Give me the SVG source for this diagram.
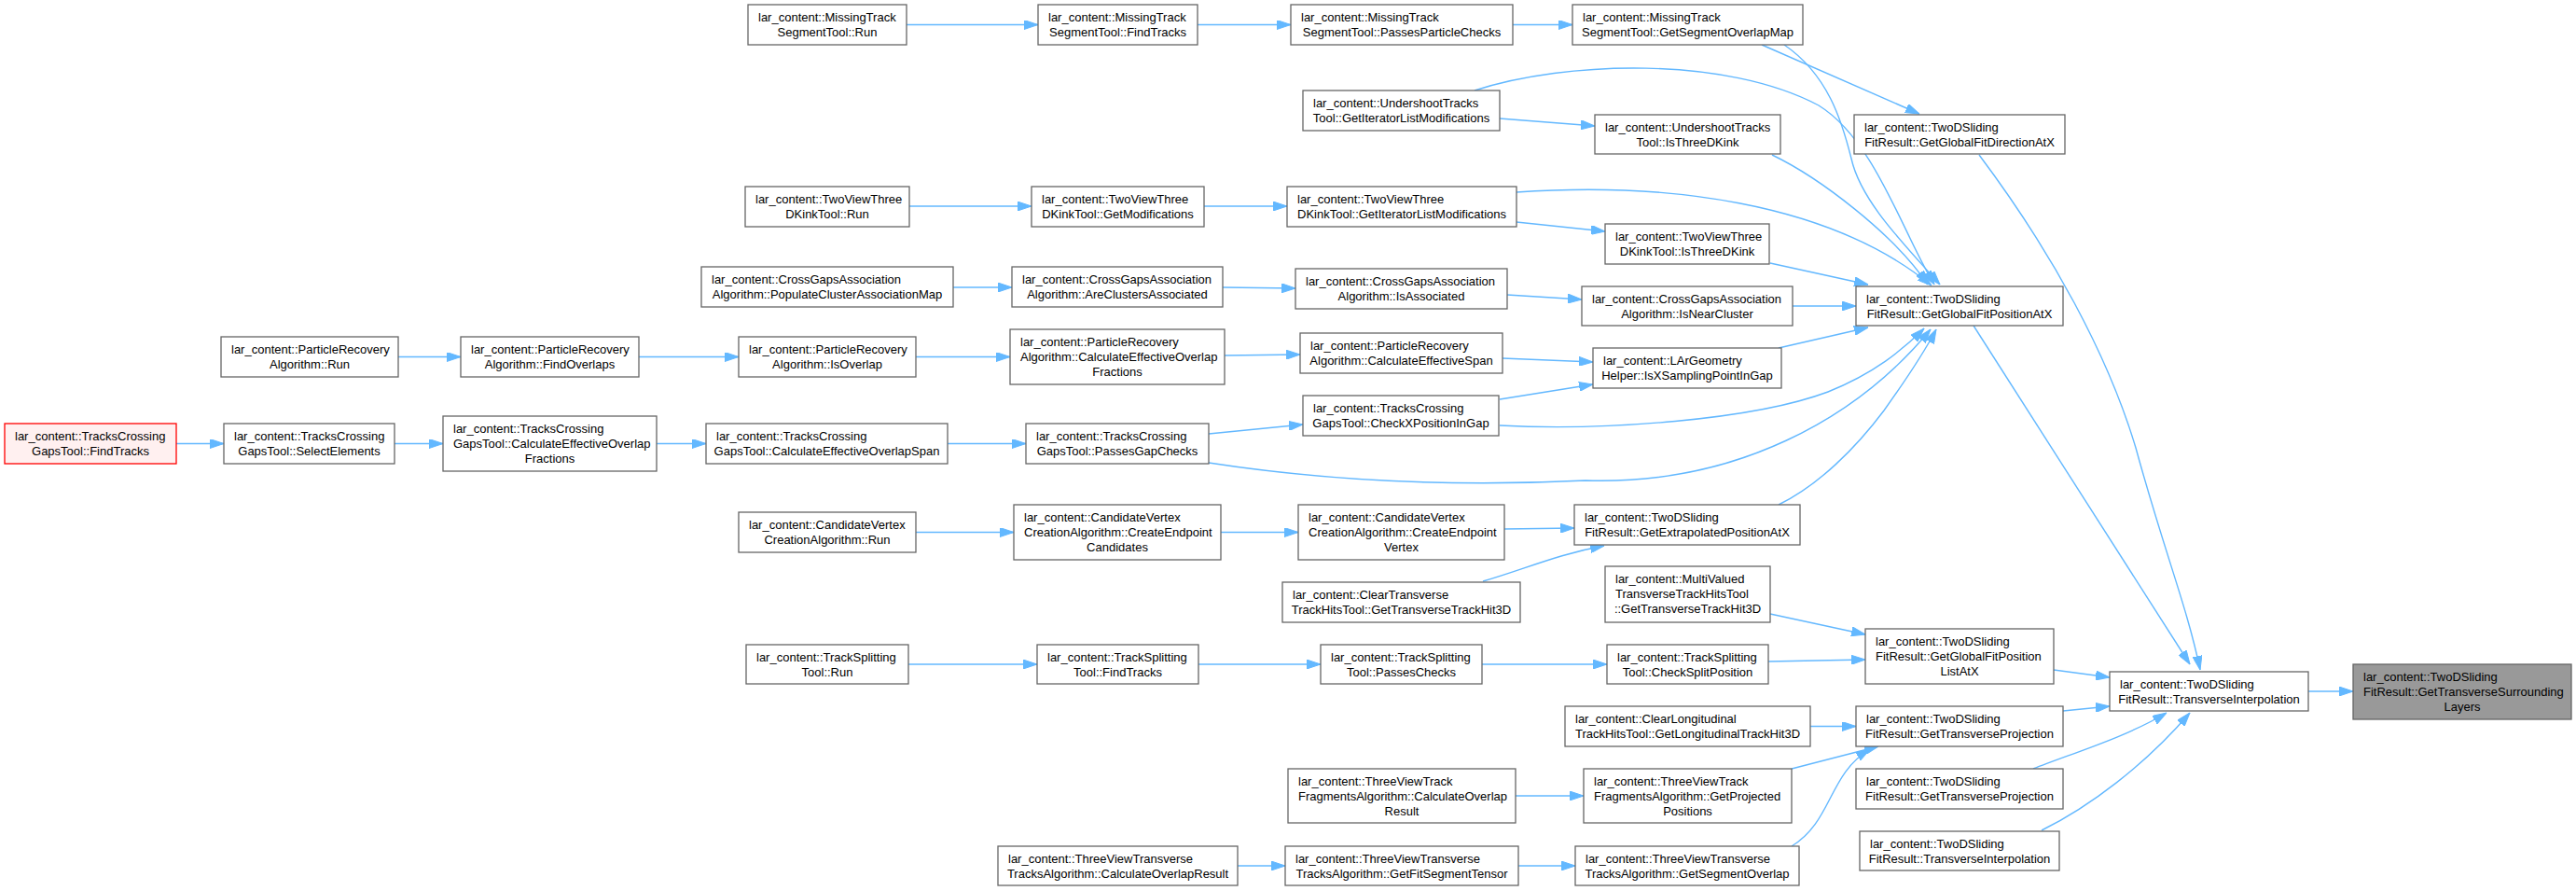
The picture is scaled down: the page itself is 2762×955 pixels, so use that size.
<svg xmlns="http://www.w3.org/2000/svg" width="2762" height="955" viewBox="0 0 2762 955">
<style>
.node rect{fill:#ffffff;stroke:#666666;stroke-width:1.3}
.target rect{fill:#999999}
.start rect{fill:#fff0f0;stroke:#ff0000}
text{font-family:"Liberation Sans",Arial,Helvetica,sans-serif;font-size:13px;fill:#000000}
.c{text-anchor:middle}
#edges path{fill:none;stroke:#63b8ff;stroke-width:1.4;marker-end:url(#ah)}
</style>
<defs>
<marker id="ah" viewBox="0 0 15 10" markerUnits="userSpaceOnUse" markerWidth="15" markerHeight="10" refX="15" refY="5" orient="auto">
<path d="M0,0 L15,5 L0,10 Z" fill="#63b8ff" stroke="#63b8ff" stroke-width="1"/>
</marker>
</defs>
<rect x="0" y="0" width="2762" height="955" fill="#ffffff"/>
<g id="edges">
<path d="M972,26.5 L1113,26.5"/>
<path d="M1284,26.5 L1384,26.5"/>
<path d="M1622,26.5 L1686,26.5"/>
<path d="M1889,48 L2058,122"/>
<path d="M1913,48 C1960,80 1975,130 1985,170 C1995,215 2040,260 2080,305"/>
<path d="M1581,97 C1680,65 1850,60 1950,113 C2010,150 2040,250 2074,305"/>
<path d="M1900,166 C1950,190 2030,250 2067,305"/>
<path d="M1626,206 C1780,195 1960,215 2071,306"/>
<path d="M1898,282 L2003,305"/>
<path d="M1922,328 L1990,328"/>
<path d="M1907,373 L2003,351"/>
<path d="M1608,456 C1720,462 1880,450 1960,420 C2010,400 2040,375 2063,352"/>
<path d="M1296,496 C1420,515 1560,522 1700,515 C1860,520 1990,450 2070,353"/>
<path d="M1907,541 C1950,520 1990,480 2020,440 C2045,405 2062,380 2076,353"/>
<path d="M2122,166 C2200,270 2260,380 2290,480 C2320,590 2345,650 2359,718"/>
<path d="M2116,349 L2348,712"/>
<path d="M2202,718 L2262,726"/>
<path d="M2212,762 L2262,757"/>
<path d="M2180,824 C2220,808 2280,790 2323,764"/>
<path d="M2189,890 C2240,865 2300,820 2348,764"/>
<path d="M2475,741 L2523,741"/>
<path d="M1608,127 L1710,135"/>
<path d="M975,221 L1106,221"/>
<path d="M1291,221 L1380,221"/>
<path d="M1626,238 L1721,248"/>
<path d="M1022,308 L1085,308"/>
<path d="M1311,308 L1389,309"/>
<path d="M1616,316 L1696,321"/>
<path d="M427,382.5 L494,382.5"/>
<path d="M685,382.5 L792,382.5"/>
<path d="M982,382.5 L1083,382.5"/>
<path d="M1313,381 L1394,380"/>
<path d="M1611,384 L1708,388"/>
<path d="M1608,428 L1708,412"/>
<path d="M189,475.5 L240,475.5"/>
<path d="M423,475.5 L475,475.5"/>
<path d="M704,475.5 L757,475.5"/>
<path d="M1016,475.5 L1100,475.5"/>
<path d="M1296,465 L1397,455"/>
<path d="M982,570.5 L1087,570.5"/>
<path d="M1309,570.5 L1392,570.5"/>
<path d="M1613,567 L1688,566"/>
<path d="M1590,623 C1635,610 1670,594 1720,585"/>
<path d="M974,712 L1112,712"/>
<path d="M1285,712 L1416,712"/>
<path d="M1589,712 L1723,712"/>
<path d="M1896,709 L2000,707"/>
<path d="M1898,658 L2000,680"/>
<path d="M1941,778.5 L1990,778.5"/>
<path d="M1625,853 L1698,853"/>
<path d="M1921,824 L2014,800"/>
<path d="M1921,907 C1965,880 1960,830 2005,803"/>
<path d="M1327,928 L1378,928"/>
<path d="M1628,928 L1689,928"/>
</g>
<g id="n0" class="node target"><rect x="2523" y="712" width="234" height="59"/><text x="2534" y="730">lar_content::TwoDSliding</text><text x="2534" y="746">FitResult::GetTransverseSurrounding</text><text class="c" x="2640" y="762">Layers</text></g>
<g id="n1" class="node"><rect x="2262" y="720" width="213" height="42"/><text x="2273" y="738">lar_content::TwoDSliding</text><text class="c" x="2368.5" y="754">FitResult::TransverseInterpolation</text></g>
<g id="n2" class="node"><rect x="1988" y="123" width="226" height="42"/><text x="1999" y="141">lar_content::TwoDSliding</text><text class="c" x="2101" y="157">FitResult::GetGlobalFitDirectionAtX</text></g>
<g id="n3" class="node"><rect x="1990" y="307" width="222" height="42"/><text x="2001" y="325">lar_content::TwoDSliding</text><text class="c" x="2101" y="341">FitResult::GetGlobalFitPositionAtX</text></g>
<g id="n4" class="node"><rect x="2000" y="674" width="202" height="59"/><text x="2011" y="692">lar_content::TwoDSliding</text><text x="2011" y="708">FitResult::GetGlobalFitPosition</text><text class="c" x="2101" y="724">ListAtX</text></g>
<g id="n5" class="node"><rect x="1990" y="757" width="222" height="43"/><text x="2001" y="775">lar_content::TwoDSliding</text><text class="c" x="2101" y="791">FitResult::GetTransverseProjection</text></g>
<g id="n6" class="node"><rect x="1990" y="824" width="222" height="43"/><text x="2001" y="842">lar_content::TwoDSliding</text><text class="c" x="2101" y="858">FitResult::GetTransverseProjection</text></g>
<g id="n7" class="node"><rect x="1994" y="891" width="214" height="42"/><text x="2005" y="909">lar_content::TwoDSliding</text><text class="c" x="2101" y="925">FitResult::TransverseInterpolation</text></g>
<g id="n8" class="node"><rect x="1686" y="5" width="247" height="43"/><text x="1697" y="23">lar_content::MissingTrack</text><text class="c" x="1809.5" y="39">SegmentTool::GetSegmentOverlapMap</text></g>
<g id="n9" class="node"><rect x="1710" y="123" width="199" height="42"/><text x="1721" y="141">lar_content::UndershootTracks</text><text class="c" x="1809.5" y="157">Tool::IsThreeDKink</text></g>
<g id="n10" class="node"><rect x="1721" y="240" width="176" height="43"/><text x="1732" y="258">lar_content::TwoViewThree</text><text class="c" x="1809" y="274">DKinkTool::IsThreeDKink</text></g>
<g id="n11" class="node"><rect x="1696" y="307" width="226" height="42"/><text x="1707" y="325">lar_content::CrossGapsAssociation</text><text class="c" x="1809" y="341">Algorithm::IsNearCluster</text></g>
<g id="n12" class="node"><rect x="1708" y="373" width="202" height="43"/><text x="1719" y="391">lar_content::LArGeometry</text><text class="c" x="1809" y="407">Helper::IsXSamplingPointInGap</text></g>
<g id="n13" class="node"><rect x="1688" y="541" width="242" height="43"/><text x="1699" y="559">lar_content::TwoDSliding</text><text class="c" x="1809" y="575">FitResult::GetExtrapolatedPositionAtX</text></g>
<g id="n14" class="node"><rect x="1721" y="607" width="177" height="60"/><text x="1732" y="625">lar_content::MultiValued</text><text x="1732" y="641">TransverseTrackHitsTool</text><text class="c" x="1809.5" y="657">::GetTransverseTrackHit3D</text></g>
<g id="n15" class="node"><rect x="1723" y="691" width="173" height="42"/><text x="1734" y="709">lar_content::TrackSplitting</text><text class="c" x="1809.5" y="725">Tool::CheckSplitPosition</text></g>
<g id="n16" class="node"><rect x="1678" y="757" width="263" height="43"/><text x="1689" y="775">lar_content::ClearLongitudinal</text><text class="c" x="1809.5" y="791">TrackHitsTool::GetLongitudinalTrackHit3D</text></g>
<g id="n17" class="node"><rect x="1698" y="824" width="223" height="58"/><text x="1709" y="842">lar_content::ThreeViewTrack</text><text x="1709" y="858">FragmentsAlgorithm::GetProjected</text><text class="c" x="1809.5" y="874">Positions</text></g>
<g id="n18" class="node"><rect x="1689" y="907" width="240" height="42"/><text x="1700" y="925">lar_content::ThreeViewTransverse</text><text class="c" x="1809" y="941">TracksAlgorithm::GetSegmentOverlap</text></g>
<g id="n19" class="node"><rect x="1384" y="5" width="238" height="43"/><text x="1395" y="23">lar_content::MissingTrack</text><text class="c" x="1503" y="39">SegmentTool::PassesParticleChecks</text></g>
<g id="n20" class="node"><rect x="1397" y="97" width="211" height="43"/><text x="1408" y="115">lar_content::UndershootTracks</text><text class="c" x="1502.5" y="131">Tool::GetIteratorListModifications</text></g>
<g id="n21" class="node"><rect x="1380" y="200" width="246" height="43"/><text x="1391" y="218">lar_content::TwoViewThree</text><text class="c" x="1503" y="234">DKinkTool::GetIteratorListModifications</text></g>
<g id="n22" class="node"><rect x="1389" y="288" width="227" height="43"/><text x="1400" y="306">lar_content::CrossGapsAssociation</text><text class="c" x="1502.5" y="322">Algorithm::IsAssociated</text></g>
<g id="n23" class="node"><rect x="1394" y="357" width="217" height="43"/><text x="1405" y="375">lar_content::ParticleRecovery</text><text class="c" x="1502.5" y="391">Algorithm::CalculateEffectiveSpan</text></g>
<g id="n24" class="node"><rect x="1397" y="424" width="210" height="43"/><text x="1408" y="442">lar_content::TracksCrossing</text><text class="c" x="1502" y="458">GapsTool::CheckXPositionInGap</text></g>
<g id="n25" class="node"><rect x="1392" y="541" width="221" height="59"/><text x="1403" y="559">lar_content::CandidateVertex</text><text x="1403" y="575">CreationAlgorithm::CreateEndpoint</text><text class="c" x="1502.5" y="591">Vertex</text></g>
<g id="n26" class="node"><rect x="1375" y="624" width="255" height="43"/><text x="1386" y="642">lar_content::ClearTransverse</text><text class="c" x="1502.5" y="658">TrackHitsTool::GetTransverseTrackHit3D</text></g>
<g id="n27" class="node"><rect x="1416" y="691" width="173" height="42"/><text x="1427" y="709">lar_content::TrackSplitting</text><text class="c" x="1502.5" y="725">Tool::PassesChecks</text></g>
<g id="n28" class="node"><rect x="1381" y="824" width="244" height="58"/><text x="1392" y="842">lar_content::ThreeViewTrack</text><text x="1392" y="858">FragmentsAlgorithm::CalculateOverlap</text><text class="c" x="1503" y="874">Result</text></g>
<g id="n29" class="node"><rect x="1378" y="907" width="250" height="42"/><text x="1389" y="925">lar_content::ThreeViewTransverse</text><text class="c" x="1503" y="941">TracksAlgorithm::GetFitSegmentTensor</text></g>
<g id="n30" class="node"><rect x="1113" y="5" width="171" height="43"/><text x="1124" y="23">lar_content::MissingTrack</text><text class="c" x="1198.5" y="39">SegmentTool::FindTracks</text></g>
<g id="n31" class="node"><rect x="1106" y="200" width="185" height="43"/><text x="1117" y="218">lar_content::TwoViewThree</text><text class="c" x="1198.5" y="234">DKinkTool::GetModifications</text></g>
<g id="n32" class="node"><rect x="1085" y="286" width="226" height="43"/><text x="1096" y="304">lar_content::CrossGapsAssociation</text><text class="c" x="1198" y="320">Algorithm::AreClustersAssociated</text></g>
<g id="n33" class="node"><rect x="1083" y="353" width="230" height="59"/><text x="1094" y="371">lar_content::ParticleRecovery</text><text x="1094" y="387">Algorithm::CalculateEffectiveOverlap</text><text class="c" x="1198" y="403">Fractions</text></g>
<g id="n34" class="node"><rect x="1100" y="454" width="196" height="43"/><text x="1111" y="472">lar_content::TracksCrossing</text><text class="c" x="1198" y="488">GapsTool::PassesGapChecks</text></g>
<g id="n35" class="node"><rect x="1087" y="541" width="222" height="59"/><text x="1098" y="559">lar_content::CandidateVertex</text><text x="1098" y="575">CreationAlgorithm::CreateEndpoint</text><text class="c" x="1198" y="591">Candidates</text></g>
<g id="n36" class="node"><rect x="1112" y="691" width="173" height="42"/><text x="1123" y="709">lar_content::TrackSplitting</text><text class="c" x="1198.5" y="725">Tool::FindTracks</text></g>
<g id="n37" class="node"><rect x="1070" y="907" width="257" height="42"/><text x="1081" y="925">lar_content::ThreeViewTransverse</text><text class="c" x="1198.5" y="941">TracksAlgorithm::CalculateOverlapResult</text></g>
<g id="n38" class="node"><rect x="802" y="5" width="170" height="43"/><text x="813" y="23">lar_content::MissingTrack</text><text class="c" x="887" y="39">SegmentTool::Run</text></g>
<g id="n39" class="node"><rect x="799" y="200" width="176" height="43"/><text x="810" y="218">lar_content::TwoViewThree</text><text class="c" x="887" y="234">DKinkTool::Run</text></g>
<g id="n40" class="node"><rect x="752" y="286" width="270" height="43"/><text x="763" y="304">lar_content::CrossGapsAssociation</text><text class="c" x="887" y="320">Algorithm::PopulateClusterAssociationMap</text></g>
<g id="n41" class="node"><rect x="792" y="361" width="190" height="43"/><text x="803" y="379">lar_content::ParticleRecovery</text><text class="c" x="887" y="395">Algorithm::IsOverlap</text></g>
<g id="n42" class="node"><rect x="757" y="454" width="259" height="43"/><text x="768" y="472">lar_content::TracksCrossing</text><text class="c" x="886.5" y="488">GapsTool::CalculateEffectiveOverlapSpan</text></g>
<g id="n43" class="node"><rect x="792" y="549" width="190" height="43"/><text x="803" y="567">lar_content::CandidateVertex</text><text class="c" x="887" y="583">CreationAlgorithm::Run</text></g>
<g id="n44" class="node"><rect x="800" y="691" width="174" height="42"/><text x="811" y="709">lar_content::TrackSplitting</text><text class="c" x="887" y="725">Tool::Run</text></g>
<g id="n45" class="node"><rect x="494" y="361" width="191" height="43"/><text x="505" y="379">lar_content::ParticleRecovery</text><text class="c" x="589.5" y="395">Algorithm::FindOverlaps</text></g>
<g id="n46" class="node"><rect x="475" y="446" width="229" height="59"/><text x="486" y="464">lar_content::TracksCrossing</text><text x="486" y="480">GapsTool::CalculateEffectiveOverlap</text><text class="c" x="589.5" y="496">Fractions</text></g>
<g id="n47" class="node"><rect x="237" y="361" width="190" height="43"/><text x="248" y="379">lar_content::ParticleRecovery</text><text class="c" x="332" y="395">Algorithm::Run</text></g>
<g id="n48" class="node"><rect x="240" y="454" width="183" height="43"/><text x="251" y="472">lar_content::TracksCrossing</text><text class="c" x="331.5" y="488">GapsTool::SelectElements</text></g>
<g id="n49" class="node start"><rect x="5" y="454" width="184" height="43"/><text x="16" y="472">lar_content::TracksCrossing</text><text class="c" x="97" y="488">GapsTool::FindTracks</text></g>
</svg>
